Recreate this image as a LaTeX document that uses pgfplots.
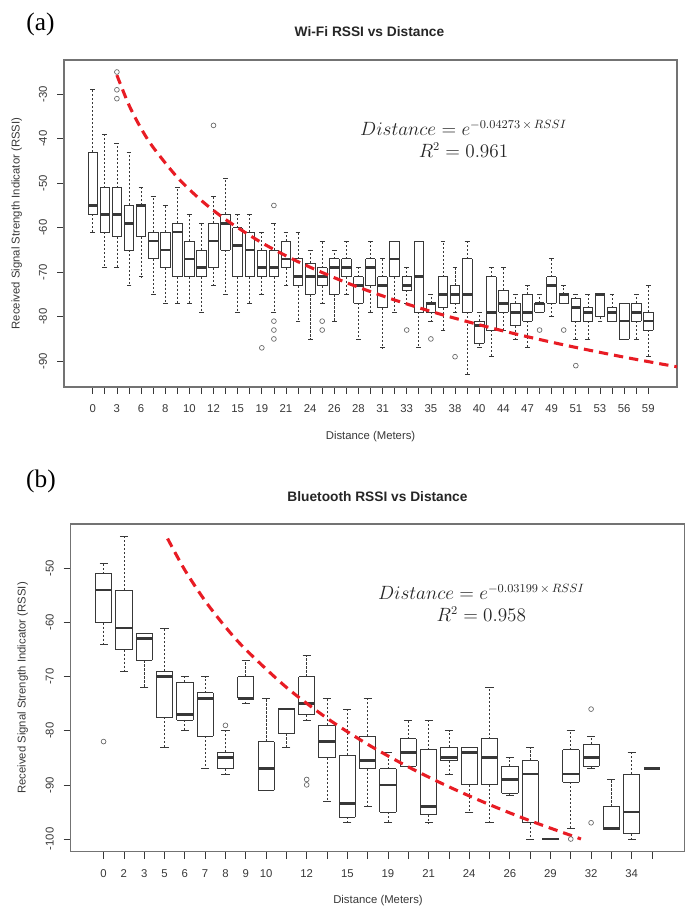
\documentclass[border=0pt]{standalone}
\usepackage{fontspec}
\setmainfont{Liberation Sans}
\newfontfamily\panelfont{Liberation Serif}
\usepackage{pgfplots}
\usepackage{pgfplotstable}
\pgfplotsset{compat=1.18}

\definecolor{fitred}{RGB}{232,28,36}
\definecolor{ink}{gray}{0.22}
\definecolor{framegray}{gray}{0.45}

% box statistics: position, lower whisker, lower quartile, median, upper quartile, upper whisker
\pgfplotstableread{
p  lw    lq    med   uq    uw
1  -61   -57   -55   -43   -29
2  -69   -61   -57   -51   -39
3  -69   -62   -57   -51   -41
4  -73   -65   -59   -55   -43
5  -71   -62   -55   -55   -51
6  -75   -67   -63   -61   -53
7  -77   -69   -65   -61   -55
8  -77   -71   -61   -59   -51
9  -77   -71   -67   -63   -57
10 -79   -71   -69   -65   -59
11 -73   -69   -63   -59   -53
12 -75   -65   -59   -57   -49
13 -79   -71   -64   -60   -57
14 -77   -71   -65   -61   -57
15 -75   -71   -69   -65   -61
16 -79   -71   -69   -65   -59
17 -73   -69   -67   -63   -61
18 -81   -73   -71   -67   -61
19 -85   -75   -71   -68   -65
20 -77   -73   -71   -69   -63
21 -81   -75   -69   -67   -65
22 -75   -71   -69   -67   -63
23 -85   -77   -73   -71   -69
24 -79   -73   -69   -67   -63
25 -87   -78   -73   -71   -67
26 -79   -71   -67   -63   -63
27 -77   -74   -73   -71   -69
28 -87   -79   -71   -63   -63
29 -81   -79   -77   -77   -75
30 -83   -78   -75   -71   -63
31 -79   -77   -75   -73   -69
32 -93   -79   -75   -67   -63
33 -87   -86   -82   -81   -79
34 -89   -83   -79   -71   -69
35 -83   -79   -77   -74   -69
36 -85   -82   -79   -77   -75
37 -87   -81   -79   -75   -73
38 -79   -79   -77   -77   -75
39 -80   -77   -73   -71   -67
40 -77   -77   -75   -75   -73
41 -85   -81   -78   -76   -75
42 -85   -81   -79   -78   -75
43 -81   -80   -75   -75   -75
44 -81   -81   -79   -78   -75
45 -85   -85   -81   -77   -77
46 -85   -81   -79   -77   -75
47 -89   -83   -81   -79   -73
}\wifi
\pgfplotstableread{
p  v
3  -25
3  -29
3  -31
11 -37
15 -87
16 -55
16 -81
16 -83
16 -85
20 -81
20 -83
27 -83
29 -85
31 -89
38 -83
40 -83
41 -91
}\wifiout

\pgfplotstableread{
p  lw    lq    med   uq    uw
1  -64   -60   -54   -51   -49
2  -69   -65   -61   -54   -44
3  -72   -67   -63   -62   -62
4  -83   -77.5 -70   -69   -61
5  -80   -78   -77   -71   -70
6  -87   -81   -74   -73   -70
7  -88   -87   -85   -84   -80
8  -75   -74   -74   -70   -67
9  -91   -91   -87   -82   -74
10 -83   -80.5 -76   -76   -76
11 -78   -77   -75   -70   -66
12 -93   -85   -82   -79   -74
13 -97   -96   -93.5 -84.5 -76
14 -94   -87   -85.5 -81   -74
15 -97   -95   -90   -87   -84
16 -86.5 -86.5 -84   -81.5 -78
17 -97   -95.5 -94   -83.5 -78
18 -88   -85.5 -85   -83   -80
19 -95   -90   -84   -83   -83
20 -97   -90   -85   -81.5 -72
21 -92   -91.5 -89   -86.5 -85
22 -100  -97   -88   -85.5 -83
23 -100  -100  -100  -100  -100
24 -98   -89.5 -88   -83.5 -80
25 -87   -86.5 -85   -82.5 -81
26 -98   -98   -98   -94   -89
27 -100  -99   -95   -88   -84
28 -87   -87   -87   -87   -87
}\bt
\pgfplotstableread{
p  v
1  -82
7  -79
11 -89
11 -90
24 -100
25 -76
25 -97
}\btout

% R-style boxplot pieces drawn with error bars (the points themselves stay invisible)
\pgfplotsset{
  piece/.style={draw=none, mark=none, forget plot},
  vside/.style={piece,
    error bars/y dir=plus, error bars/y explicit, error bars/error mark=none,
    error bars/error bar style={draw=ink, line width=0.6pt, solid}},
  hside/.style={piece,
    error bars/x dir=both, error bars/x fixed=0.4, error bars/error mark=none,
    error bars/error bar style={draw=ink, line width=#1, solid}},
  whisk/.style 2 args={piece,
    error bars/y dir=#1, error bars/y explicit, error bars/error mark=-,
    error bars/error bar style={draw=ink, line width=0.55pt, dash pattern=on 1.6pt off 1.4pt},
    error bars/error mark options={rotate=90, solid, draw=ink, line width=0.55pt, mark size=#2}},
  outl/.style={only marks, mark=o, mark size=1.8pt, mark options={draw=black!60, line width=0.5pt}},
  rframe/.style={
    scale only axis,
    axis line style={framegray, line width=0.8pt},
    tick align=outside,
    xtick pos=left, ytick pos=left,
    major tick length=5.25pt,
    tick style={ink, line width=0.55pt},
    ticklabel style={font=\fontsize{8.5}{10}\selectfont, text=ink},
    yticklabel style={rotate=90, anchor=south},
    xticklabel shift=4.5pt,
    yticklabel shift=4pt,
  },
  fitcurve/.style={fitred, line width=2.3pt, dash pattern=on 7pt off 4.5pt, smooth},
}

\newcommand\drawboxes[2]{%
  \addplot[vside] table[x expr=\thisrow{p}-0.4, y=lq, y error expr=\thisrow{uq}-\thisrow{lq}] {#1};
  \addplot[vside] table[x expr=\thisrow{p}+0.4, y=lq, y error expr=\thisrow{uq}-\thisrow{lq}] {#1};
  \addplot[hside=0.6pt] table[x=p, y=lq] {#1};
  \addplot[hside=0.6pt] table[x=p, y=uq] {#1};
  \addplot[hside=2pt] table[x=p, y=med] {#1};
  \addplot[whisk={plus}{#2}] table[x=p, y=uq, y error expr=\thisrow{uw}-\thisrow{uq}] {#1};
  \addplot[whisk={minus}{#2}] table[x=p, y=lq, y error expr=\thisrow{lq}-\thisrow{lw}] {#1};
}

\begin{document}
\begin{tikzpicture}
\useasboundingbox (0,0) rectangle (520.5pt,687pt);

% ---------------- (a) Wi-Fi ----------------
\begin{axis}[rframe,
  at={(48pt,396.75pt)}, anchor=south west,
  width=459.75pt, height=245.25pt,
  xmin=-1.38, xmax=49.38, ymin=-95.8, ymax=-22.3,
  xtick={1,...,47},
  xticklabels={0,,3,,6,,8,,10,,12,,15,,19,,21,,24,,26,,28,,31,,33,,35,,38,,40,,44,,47,,49,,51,,53,,56,,59},
  ytick={-90,-80,-70,-60,-50,-40,-30},
  yticklabels={-90,-80,-70,-60,-50,-40,-30},
]
\drawboxes{\wifi}{1.81pt}
\addplot[outl] table[x=p, y=v] {\wifiout};
% fitted curve
\addplot[fitcurve] coordinates {
  (3,-25.71)(4,-32.44)(5,-37.67)(6,-41.93)(8,-48.66)(10,-53.89)(12,-58.15)
  (15,-63.38)(18,-67.64)(22,-72.34)(26,-76.25)(30,-79.60)(35,-83.21)
  (40,-86.33)(45,-89.09)(49.38,-91.26)
};
\end{axis}

% ---------------- (b) Bluetooth ----------------
\begin{axis}[rframe,
  at={(53pt,48.2pt)}, anchor=south west,
  width=460.7pt, height=245.8pt,
  xmin=-0.62, xmax=29.62, ymin=-102.35, ymax=-41.8,
  xtick={1,...,28},
  xticklabels={0,2,3,5,6,7,8,9,10,,12,,15,,19,,21,,24,,26,,29,,32,,34,},
  ytick={-100,-90,-80,-70,-60,-50},
  yticklabels={-100,-90,-80,-70,-60,-50},
]
\drawboxes{\bt}{3.05pt}
\addplot[outl] table[x=p, y=v] {\btout};
\addplot[fitcurve] coordinates {
  (4.15,-44.49)(5,-50.31)(6,-56.01)(7,-60.83)(8,-65.00)(10,-71.98)
  (12,-77.68)(14,-82.50)(16,-86.67)(18,-90.35)(20,-93.65)(22,-96.63)(24.5,-99.99)
};
\end{axis}

% titles, panel letters, axis labels and equations
\node[font=\fontsize{10.3}{12}\selectfont\bfseries, text=black!85] at (277.1pt,663pt) {Wi-Fi RSSI vs Distance};
\node[font=\fontsize{10.3}{12}\selectfont\bfseries, text=black!85] at (283.1pt,314.25pt) {Bluetooth RSSI vs Distance};
\node[font=\panelfont\fontsize{19}{22}\selectfont] at (30.4pt,669pt) {(a)};
\node[font=\panelfont\fontsize{19}{22}\selectfont] at (30.75pt,326.25pt) {(b)};
\node[font=\fontsize{8.5}{10}\selectfont, text=ink] at (277.9pt,359.5pt) {Distance (Meters)};
\node[font=\fontsize{8.5}{10}\selectfont, text=ink] at (283.5pt,11.25pt) {Distance (Meters)};
\node[font=\fontsize{8.5}{10}\selectfont, text=ink, rotate=90] at (12.5pt,519.4pt) {Received Signal Strength Indicator (RSSI)};
\node[font=\fontsize{8.5}{10}\selectfont, text=ink, rotate=90] at (17pt,171pt) {Received Signal Strength Indicator (RSSI)};
\node[font=\fontsize{13.5}{16.5}\selectfont, align=center, text=black!85] at (347.6pt,582.75pt)
  {$\mathnormal{Distance} = e^{-0.04273\,\times\,\mathnormal{RSSI}}$\\ $R^2 = 0.961$};
\node[font=\fontsize{13.5}{16.5}\selectfont, align=center, text=black!85] at (361pt,235.1pt)
  {$\mathnormal{Distance} = e^{-0.03199\,\times\,\mathnormal{RSSI}}$\\ $R^2 = 0.958$};
\end{tikzpicture}
\end{document}
